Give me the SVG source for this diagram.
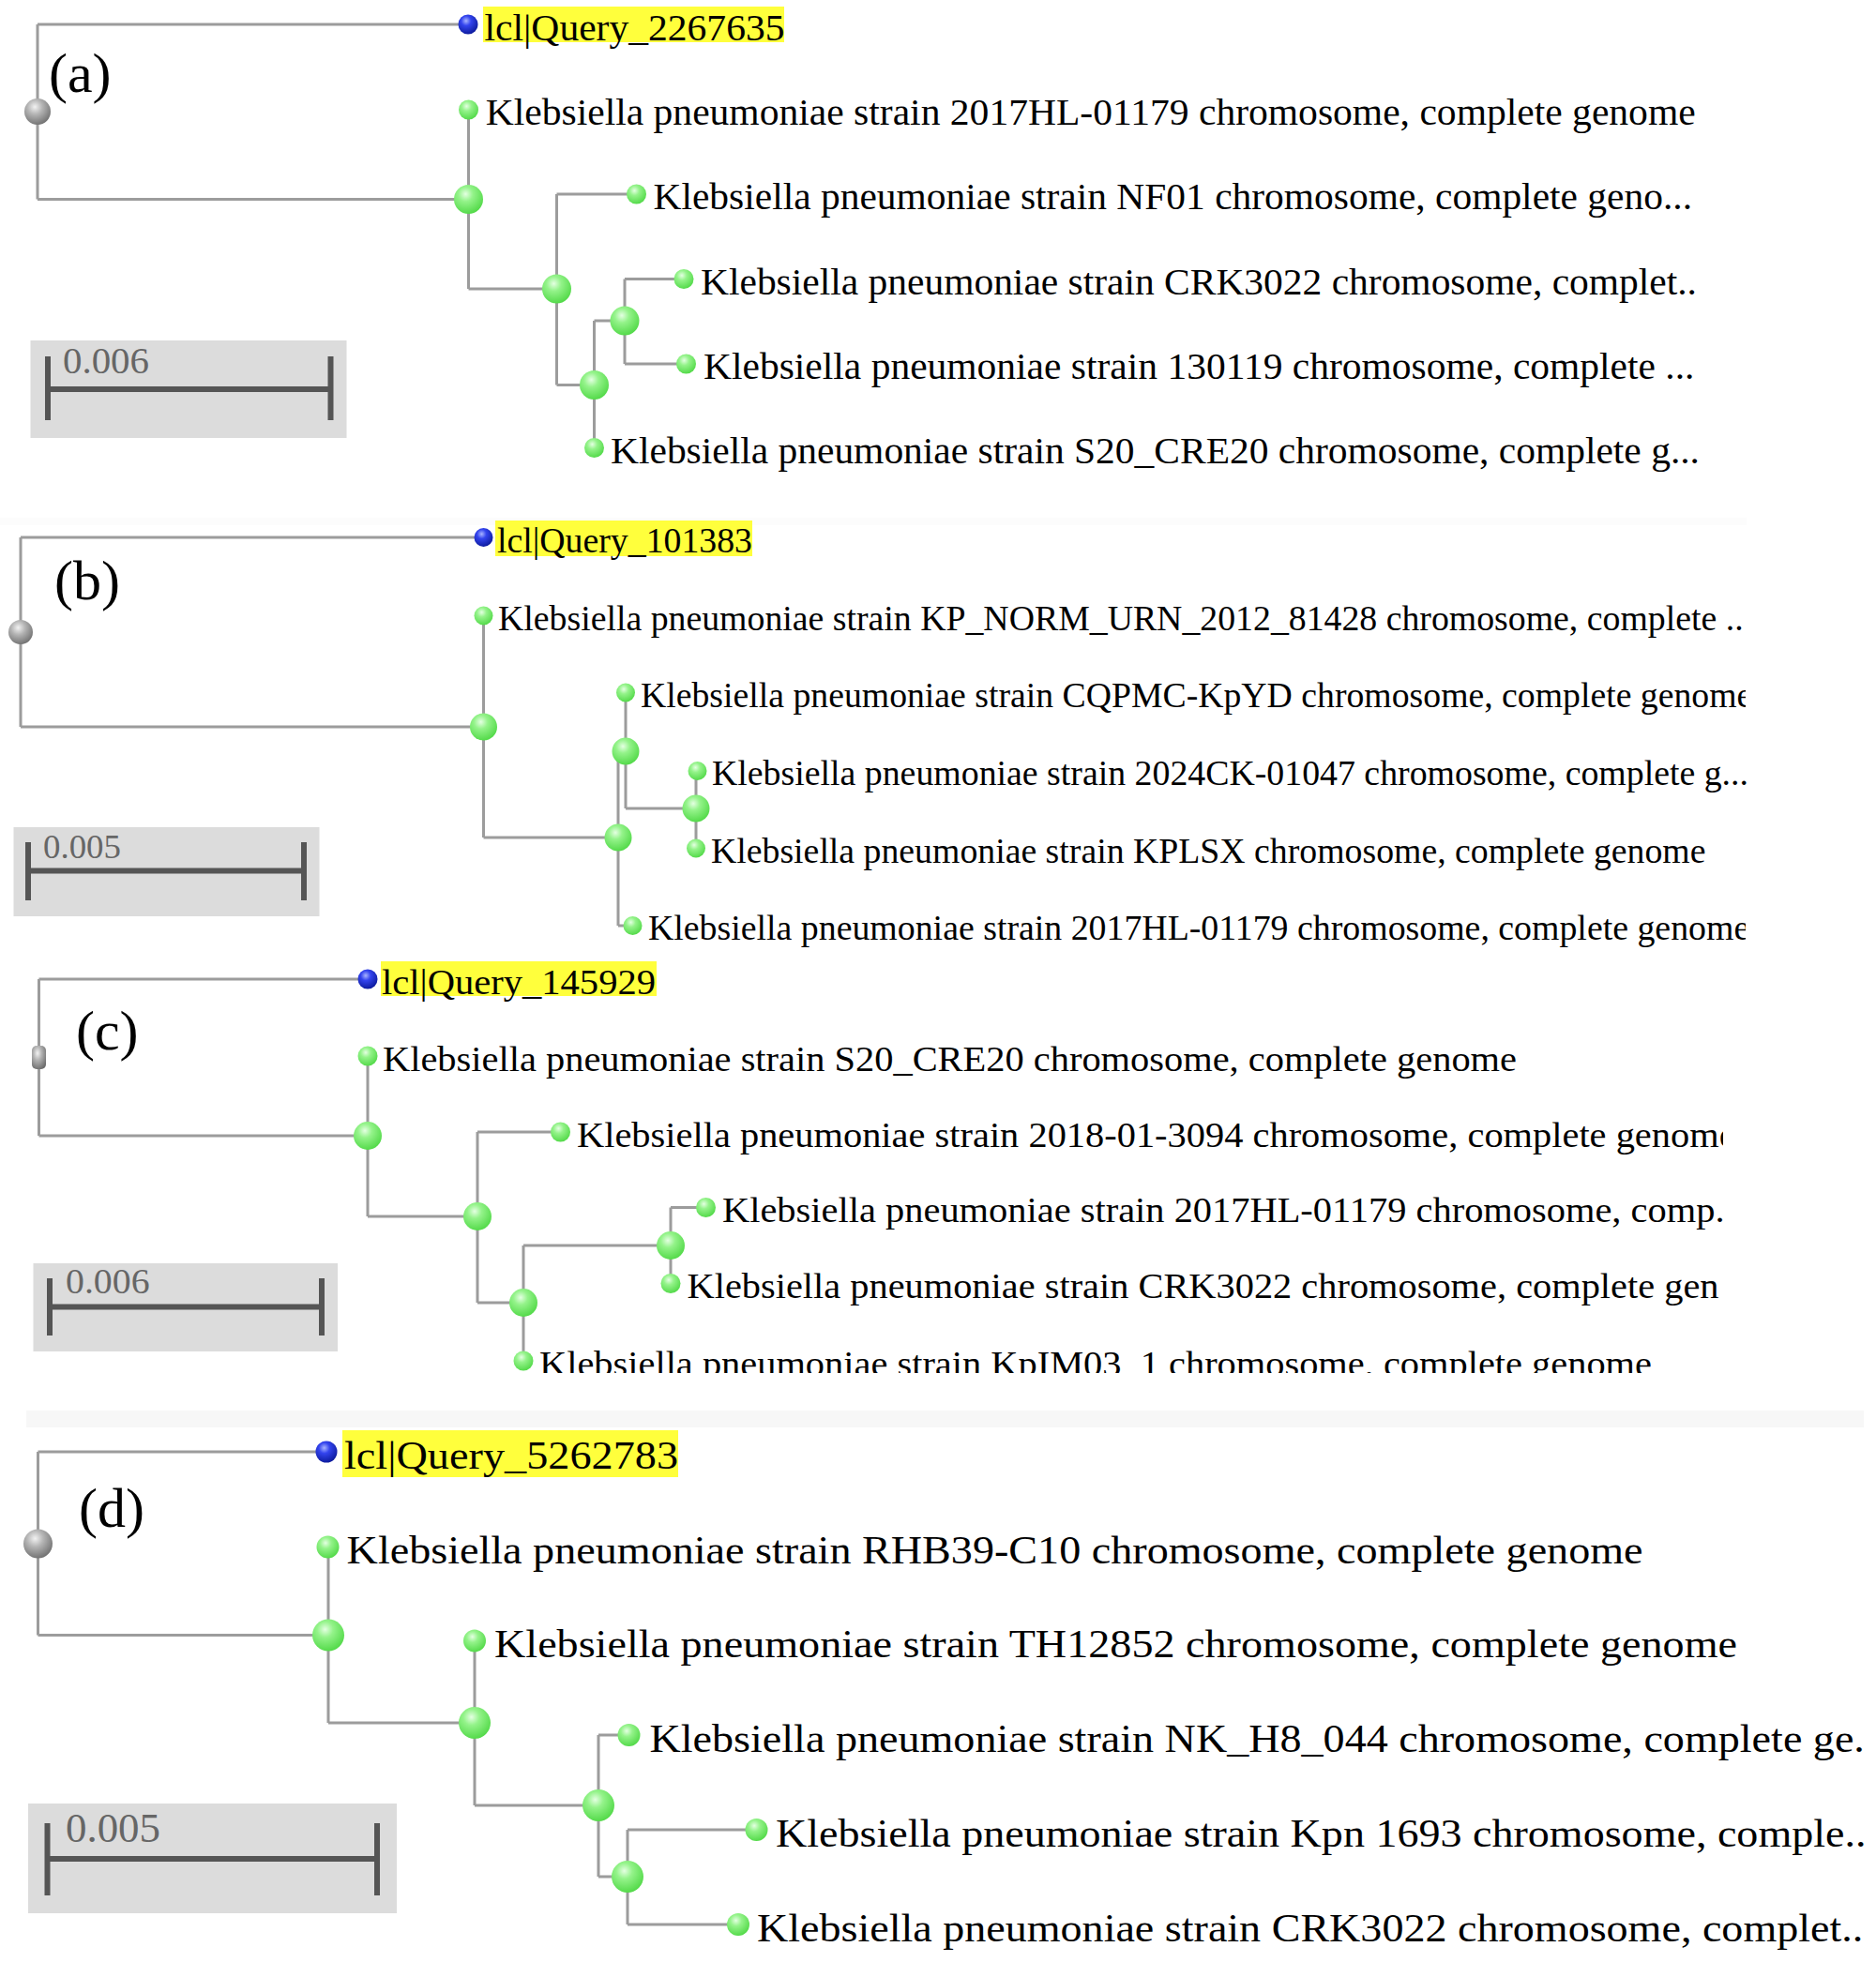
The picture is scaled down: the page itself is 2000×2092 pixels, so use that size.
<svg xmlns="http://www.w3.org/2000/svg" width="2000" height="2092" viewBox="0 0 2000 2092">
<defs>
<radialGradient id="gG" cx="0.4" cy="0.32" r="0.72">
<stop offset="0" stop-color="#e4ffe2"/><stop offset="0.35" stop-color="#94f38a"/><stop offset="1" stop-color="#4fd845"/>
</radialGradient>
<radialGradient id="gB" cx="0.4" cy="0.32" r="0.72">
<stop offset="0" stop-color="#a8b4ff"/><stop offset="0.35" stop-color="#3344ee"/><stop offset="1" stop-color="#0a1898"/>
</radialGradient>
<radialGradient id="gR" cx="0.4" cy="0.32" r="0.72">
<stop offset="0" stop-color="#f2f2f2"/><stop offset="0.4" stop-color="#b4b4b4"/><stop offset="1" stop-color="#6e6e6e"/>
</radialGradient>
<clipPath id="clipB"><rect x="0" y="540" width="1861" height="480"/></clipPath>
<clipPath id="clipC"><rect x="0" y="1010" width="1837" height="454"/></clipPath>
</defs>
<style>
.e{fill:none;stroke:#9c9c9c;stroke-width:3}
.lf{fill:url(#gG)}
.in{fill:url(#gG)}
.qn{fill:url(#gB)}
.rt{fill:url(#gR)}
.hl{fill:#ffff3c}
.t{font-family:"Liberation Serif","Times New Roman",serif;fill:#000}
.sb{fill:#dcdcdc}
.bar{fill:none;stroke:#555;stroke-width:6}
.st{font-family:"Liberation Serif","Times New Roman",serif;fill:#666}
.pl{font-family:"Liberation Serif","Times New Roman",serif;fill:#000;font-size:60px}
</style>
<rect width="2000" height="2092" fill="#fff"/>
<rect x="0" y="552" width="1862" height="8" fill="#fcfcfc"/>
<rect x="28" y="1504" width="1959" height="18" fill="#f7f7f7"/>

<g id="connectors">
<path class="e" d="M40 26V212.5M40 26H499M40 212.5H499.5M499.5 117V308M499.5 308H593.5M593.5 207V410.5M593.5 207H678.5M593.5 410.5H633.5M633.5 342V477.5M633.5 342H666M666 297.5V388M666 297.5H729M666 388H731.5"/>
<path class="e" d="M22 573V775M22 573H515.5M22 775H515.5M515.5 656.5V893M515.5 893H659M659 801V987M659 801H667M659 987H674.5M667 738.5V862M667 862H742M742 822V904.5"/>
<path class="e" d="M41.5 1044V1211M41.5 1044H392M41.5 1211H392M392 1126V1297M392 1297H509M509 1207V1389M509 1207H597.5M509 1389H558M558 1328V1451M558 1328H715M715 1287.5V1368.5M715 1287.5H752.5"/>
<path class="e" d="M40.5 1548V1743.5M40.5 1548H348M40.5 1743.5H350M350 1649.5V1837M350 1837H506M506 1749.5V1925M506 1925H638M638 1850V2001M638 1850H670.5M638 2001H669M669 1951V2052M669 1951H806.5M669 2052H787"/>
</g>

<!-- Panel (a) -->
<g id="panel-a">
<text class="pl" x="52" y="98">(a)</text>
<g id="a-scale"><rect class="sb" x="32.5" y="363" width="337" height="104"/><path class="bar" d="M51 415H352.5M51 380V448M352.5 380V448"/><text class="st" x="67" y="398" font-size="40" textLength="92" lengthAdjust="spacingAndGlyphs">0.006</text></g>
<g id="a-root"><circle class="rt" cx="40" cy="119" r="14"/></g>
<g id="a-query"><rect class="hl" x="515" y="7" width="321" height="38"/><circle class="qn" cx="499" cy="26" r="10.5"/><text class="t" x="516.5" y="43" font-size="40" textLength="320" lengthAdjust="spacingAndGlyphs">lcl|Query_2267635</text></g>
<g id="a-n1"><circle class="in" cx="499.5" cy="212.5" r="15.5"/></g>
<g id="a-n2"><circle class="in" cx="593.5" cy="308" r="15.5"/></g>
<g id="a-n3"><circle class="in" cx="633.5" cy="410.5" r="15.5"/></g>
<g id="a-n4"><circle class="in" cx="666" cy="342" r="15.5"/></g>
<g id="a-l1"><circle class="lf" cx="499.5" cy="117" r="10.5"/><text class="t" x="517.7" y="133" font-size="40" textLength="1290" lengthAdjust="spacingAndGlyphs">Klebsiella pneumoniae strain 2017HL-01179 chromosome, complete genome</text></g>
<g id="a-l2"><circle class="lf" cx="678.5" cy="207" r="10.5"/><text class="t" x="696.5" y="223" font-size="40" textLength="1107.5" lengthAdjust="spacingAndGlyphs">Klebsiella pneumoniae strain NF01 chromosome, complete geno...</text></g>
<g id="a-l3"><circle class="lf" cx="729" cy="297.5" r="10.5"/><text class="t" x="747" y="313.5" font-size="40" textLength="1062" lengthAdjust="spacingAndGlyphs">Klebsiella pneumoniae strain CRK3022 chromosome, complet..</text></g>
<g id="a-l4"><circle class="lf" cx="731.5" cy="388" r="10.5"/><text class="t" x="750" y="404" font-size="40" textLength="1056.5" lengthAdjust="spacingAndGlyphs">Klebsiella pneumoniae strain 130119 chromosome, complete ...</text></g>
<g id="a-l5"><circle class="lf" cx="633.5" cy="477.5" r="10.5"/><text class="t" x="651" y="493.5" font-size="40" textLength="1161" lengthAdjust="spacingAndGlyphs">Klebsiella pneumoniae strain S20_CRE20 chromosome, complete g...</text></g>
</g>

<!-- Panel (b) -->
<g id="panel-b">
<text class="pl" x="58" y="639">(b)</text>
<g id="b-scale"><rect class="sb" x="14.5" y="882" width="326" height="95"/><path class="bar" d="M30 928.5H324M30 898V960M324 898V960"/><text class="st" x="46" y="915" font-size="36" textLength="83" lengthAdjust="spacingAndGlyphs">0.005</text></g>
<g id="b-root"><circle class="rt" cx="22" cy="674" r="13"/></g>
<g id="b-query"><rect class="hl" x="528" y="555" width="274" height="38"/><circle class="qn" cx="515.5" cy="573" r="10"/><text class="t" x="530" y="589" font-size="37" textLength="272" lengthAdjust="spacingAndGlyphs">lcl|Query_101383</text></g>
<g id="b-n1"><circle class="in" cx="515.5" cy="775" r="14.5"/></g>
<g id="b-n2"><circle class="in" cx="659" cy="893" r="14.5"/></g>
<g id="b-n3"><circle class="in" cx="667" cy="801" r="14.5"/></g>
<g id="b-n4"><circle class="in" cx="742" cy="862" r="14.5"/></g>
<g id="b-l1"><circle class="lf" cx="515.5" cy="656.5" r="10"/><text class="t" x="531" y="671.5" font-size="37" textLength="1327.6" lengthAdjust="spacingAndGlyphs">Klebsiella pneumoniae strain KP_NORM_URN_2012_81428 chromosome, complete ..</text></g>
<g id="b-l2"><circle class="lf" cx="667" cy="738.5" r="10"/><text class="t" x="683" y="753.5" font-size="37" textLength="1185.3" lengthAdjust="spacingAndGlyphs" clip-path="url(#clipB)">Klebsiella pneumoniae strain CQPMC-KpYD chromosome, complete genome</text></g>
<g id="b-l3"><circle class="lf" cx="743.5" cy="822" r="10"/><text class="t" x="759" y="837" font-size="37" textLength="1105" lengthAdjust="spacingAndGlyphs">Klebsiella pneumoniae strain 2024CK-01047 chromosome, complete g...</text></g>
<g id="b-l4"><circle class="lf" cx="742" cy="904.5" r="10"/><text class="t" x="758" y="919.5" font-size="37" textLength="1060.5" lengthAdjust="spacingAndGlyphs">Klebsiella pneumoniae strain KPLSX chromosome, complete genome</text></g>
<g id="b-l5"><circle class="lf" cx="674.5" cy="987" r="10"/><text class="t" x="691" y="1002" font-size="37" textLength="1174.2" lengthAdjust="spacingAndGlyphs" clip-path="url(#clipB)">Klebsiella pneumoniae strain 2017HL-01179 chromosome, complete genome</text></g>
</g>

<!-- Panel (c) -->
<g id="panel-c">
<text class="pl" x="81" y="1119" font-size="58">(c)</text>
<g id="c-scale"><rect class="sb" x="35.5" y="1347" width="324.5" height="94"/><path class="bar" d="M53 1393.5H343M53 1363V1424M343 1363V1424"/><text class="st" x="70" y="1379" font-size="38" textLength="89.6" lengthAdjust="spacingAndGlyphs">0.006</text></g>
<g id="c-root"><rect class="rt" x="34" y="1115" width="15" height="25" rx="5"/></g>
<g id="c-query"><rect class="hl" x="406" y="1025" width="294" height="37"/><circle class="qn" cx="392" cy="1044" r="10.5"/><text class="t" x="407" y="1059.5" font-size="37" textLength="292" lengthAdjust="spacingAndGlyphs">lcl|Query_145929</text></g>
<g id="c-n1"><circle class="in" cx="392" cy="1211" r="15"/></g>
<g id="c-n2"><circle class="in" cx="509" cy="1297" r="15"/></g>
<g id="c-n3"><circle class="in" cx="558" cy="1389" r="15"/></g>
<g id="c-n4"><circle class="in" cx="715" cy="1328" r="15"/></g>
<g id="c-l1"><circle class="lf" cx="392" cy="1126" r="10.5"/><text class="t" x="408" y="1141.5" font-size="37" textLength="1209" lengthAdjust="spacingAndGlyphs">Klebsiella pneumoniae strain S20_CRE20 chromosome, complete genome</text></g>
<g id="c-l2"><circle class="lf" cx="597.5" cy="1207" r="10.5"/><text class="t" x="615" y="1222.5" font-size="37" textLength="1235.6" lengthAdjust="spacingAndGlyphs" clip-path="url(#clipC)">Klebsiella pneumoniae strain 2018-01-3094 chromosome, complete genome</text></g>
<g id="c-l3"><circle class="lf" cx="752.5" cy="1287.5" r="10.5"/><text class="t" x="770" y="1303" font-size="37" textLength="1068.5" lengthAdjust="spacingAndGlyphs">Klebsiella pneumoniae strain 2017HL-01179 chromosome, comp.</text></g>
<g id="c-l4"><circle class="lf" cx="715" cy="1368.5" r="10.5"/><text class="t" x="732.5" y="1384" font-size="37" textLength="1100" lengthAdjust="spacingAndGlyphs">Klebsiella pneumoniae strain CRK3022 chromosome, complete gen</text></g>
<g id="c-l5"><circle class="lf" cx="558" cy="1451" r="10.5"/><text class="t" x="575" y="1466.5" font-size="37" textLength="1186" lengthAdjust="spacingAndGlyphs" clip-path="url(#clipC)">Klebsiella pneumoniae strain KpIM03_1 chromosome, complete genome</text></g>
</g>

<!-- Panel (d) -->
<g id="panel-d">
<text class="pl" x="84" y="1628">(d)</text>
<g id="d-scale"><rect class="sb" x="30" y="1923" width="393" height="117"/><path class="bar" d="M50.5 1982H402M50.5 1944V2021M402 1944V2021" stroke-width="7"/><text class="st" x="70" y="1964" font-size="44" textLength="101" lengthAdjust="spacingAndGlyphs">0.005</text></g>
<g id="d-root"><circle class="rt" cx="40.5" cy="1646" r="15.5"/></g>
<g id="d-query"><rect class="hl" x="365" y="1525" width="358" height="50"/><circle class="qn" cx="348" cy="1548" r="11.5"/><text class="t" x="367" y="1566" font-size="43" textLength="356" lengthAdjust="spacingAndGlyphs">lcl|Query_5262783</text></g>
<g id="d-n1"><circle class="in" cx="350" cy="1743.5" r="17"/></g>
<g id="d-n2"><circle class="in" cx="506" cy="1837" r="17"/></g>
<g id="d-n3"><circle class="in" cx="638" cy="1925" r="17"/></g>
<g id="d-n4"><circle class="in" cx="669" cy="2001" r="17"/></g>
<g id="d-l1"><circle class="lf" cx="349.5" cy="1649.5" r="12"/><text class="t" x="369.6" y="1667" font-size="43" textLength="1382" lengthAdjust="spacingAndGlyphs">Klebsiella pneumoniae strain RHB39-C10 chromosome, complete genome</text></g>
<g id="d-l2"><circle class="lf" cx="506" cy="1749.5" r="12"/><text class="t" x="527" y="1767" font-size="43" textLength="1325" lengthAdjust="spacingAndGlyphs">Klebsiella pneumoniae strain TH12852 chromosome, complete genome</text></g>
<g id="d-l3"><circle class="lf" cx="670.5" cy="1850" r="12"/><text class="t" x="692.5" y="1867.5" font-size="43" textLength="1295.4" lengthAdjust="spacingAndGlyphs">Klebsiella pneumoniae strain NK_H8_044 chromosome, complete ge.</text></g>
<g id="d-l4"><circle class="lf" cx="806.5" cy="1951" r="12"/><text class="t" x="827" y="1968.5" font-size="43" textLength="1162.5" lengthAdjust="spacingAndGlyphs">Klebsiella pneumoniae strain Kpn 1693 chromosome, comple..</text></g>
<g id="d-l5"><circle class="lf" cx="787" cy="2052" r="12"/><text class="t" x="807" y="2069.5" font-size="43" textLength="1179.3" lengthAdjust="spacingAndGlyphs">Klebsiella pneumoniae strain CRK3022 chromosome, complet..</text></g>
</g>
</svg>
